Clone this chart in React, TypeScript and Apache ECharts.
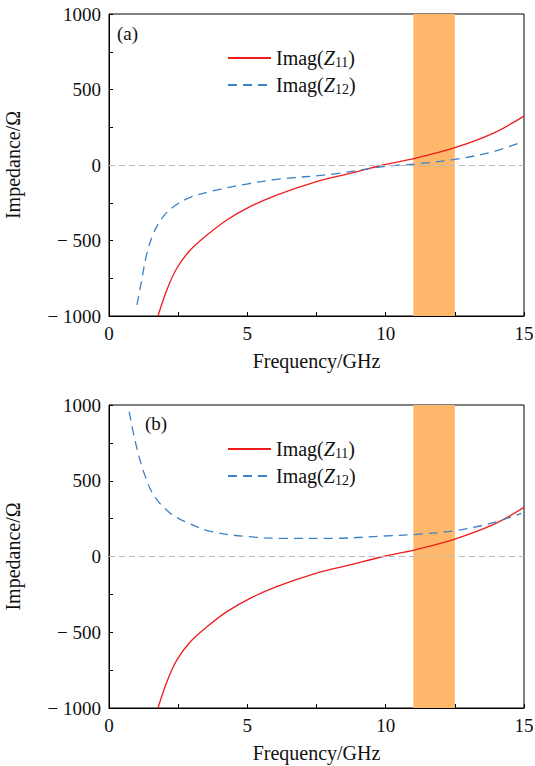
import React, { useEffect, useRef } from "react";
import * as echarts from "echarts";

// Frequency (GHz) / reactance (Ω) samples
const z11Freq = [1.77, 2.09, 2.45, 2.94, 3.54, 4.26, 5.1, 6.06, 7.5, 8.71, 9.91, 11.06, 12.5, 13.88, 15];
const z11Imag = [-1000, -828, -684, -563, -464, -364, -276, -199, -110, -55, 0, 44, 115, 210, 324];

const z12aFreq = [1.01, 1.16, 1.37, 1.61, 1.91, 2.33, 2.94, 3.78, 4.98, 6.06, 8.1, 9.91, 11.1, 12.5, 13.88, 14.85];
const z12aImag = [-927, -784, -585, -453, -353, -276, -214, -170, -126, -95, -60, -11, 7, 37, 88, 148];

const z12bFreq = [0.73, 0.95, 1.25, 1.61, 2.15, 2.75, 3.72, 5.04, 6.3, 8.1, 9.91, 11.1, 12.5, 13.88, 14.9];
const z12bImag = [956, 758, 560, 406, 296, 230, 164, 131, 120, 120, 135, 146, 170, 223, 285];

const bandStart = 11;
const bandEnd = 12.5;
const panelLabels = ["(a)", "(b)"];
const seriesNames = ["Imag(Z11)", "Imag(Z12)"];

const FONT = "Liberation Serif, DejaVu Serif, serif";
const RED = "#ee1c1c";
const BLUE = "#3d82c6";

const zip = (xs: number[], ys: number[]) => xs.map((x, i) => [x, ys[i]]);

export default function App() {
  const ref = useRef<HTMLDivElement>(null);
  useEffect(() => {
    if (!ref.current) return;
    const chart = echarts.init(ref.current, undefined, { renderer: "svg" });
    const grids = [
      { left: 109, right: 11, top: 14, height: 302, show: true, borderColor: "#000", borderWidth: 1, containLabel: false, outerBoundsMode: "none" },
      { left: 109, right: 11, top: 405, height: 303, show: true, borderColor: "#000", borderWidth: 1, containLabel: false, outerBoundsMode: "none" },
    ];
    const xAxis = [0, 1].map((g) => ({
      type: "value",
      gridIndex: g,
      min: 0,
      max: 15,
      interval: 5,
      name: "Frequency/GHz",
      nameLocation: "middle",
      nameGap: 35,
      nameTextStyle: { fontFamily: FONT, fontSize: 20, color: "#111" },
      axisLine: { onZero: false, lineStyle: { color: "#000", width: 1 } },
      axisTick: { inside: true, length: 4, lineStyle: { color: "#000" } },
      minorTick: { show: true, splitNumber: 2, length: 4, lineStyle: { color: "#000" } },
      splitLine: { show: false },
      axisLabel: { fontFamily: FONT, fontSize: 19, color: "#111", margin: 8 },
    }));
    const yAxis = [0, 1].map((g) => ({
      type: "value",
      gridIndex: g,
      min: -1000,
      max: 1000,
      interval: 500,
      name: "Impedance/Ω",
      nameLocation: "middle",
      nameGap: 86,
      nameTextStyle: { fontFamily: FONT, fontSize: 20, color: "#111" },
      axisLine: { onZero: false, lineStyle: { color: "#000", width: 1 } },
      axisTick: { inside: true, length: 4, lineStyle: { color: "#000" } },
      minorTick: { show: true, splitNumber: 2, length: 4, lineStyle: { color: "#000" } },
      splitLine: { show: false },
      axisLabel: {
        fontFamily: FONT,
        fontSize: 19,
        color: "#111",
        margin: 8,
        formatter: (v: number) => (v < 0 ? "− " + Math.abs(v) : String(v)),
      },
    }));
    const rich = {
      t: { fontFamily: FONT, fontSize: 20, color: "#111", lineHeight: 22, height: 22 },
      i: { fontFamily: FONT, fontSize: 20, fontStyle: "italic", color: "#111", lineHeight: 22, height: 22 },
      s: { fontFamily: FONT, fontSize: 14, color: "#111", lineHeight: 14, padding: [8, 0, 0, 0] },
    };
    const legendFmt = (name: string) =>
      name === seriesNames[0] ? "{t|Imag(}{i|Z}{s|11}{t|)}" : "{t|Imag(}{i|Z}{s|12}{t|)}";
    const legends = [42, 433].map((top) => ({
      top,
      left: 222,
      orient: "vertical",
      itemWidth: 43,
      itemHeight: 14,
      itemGap: 5,
      data: seriesNames,
      formatter: legendFmt,
      itemStyle: { opacity: 0 },
      textStyle: { rich },
    }));
    const mkSeries = (g: number, z12: number[][]) => [
      {
        name: seriesNames[0],
        type: "line",
        xAxisIndex: g,
        yAxisIndex: g,
        data: zip(z11Freq, z11Imag),
        smooth: 0.35,
        symbol: "none",
        lineStyle: { color: RED, width: 1.3 },
        itemStyle: { color: RED },
        z: 3,
        markArea: {
          silent: true,
          itemStyle: { color: "#FFB86B", opacity: 1 },
          data: [[{ xAxis: bandStart }, { xAxis: bandEnd }]],
        },
      },
      {
        name: seriesNames[1],
        type: "line",
        xAxisIndex: g,
        yAxisIndex: g,
        data: z12,
        smooth: 0.35,
        symbol: "none",
        lineStyle: { color: BLUE, width: 1.3, type: [9, 6] },
        itemStyle: { color: BLUE },
        z: 3,
        markLine: {
          silent: true,
          symbol: "none",
          label: { show: false },
          lineStyle: { color: "#bbbbbb", type: [6, 4], width: 1 },
          data: [{ yAxis: 0 }],
        },
      },
    ];
    chart.setOption({
      animation: false,
      backgroundColor: "#fff",
      textStyle: { fontFamily: FONT },
      grid: grids,
      xAxis,
      yAxis,
      legend: legends,
      series: [...mkSeries(0, zip(z12aFreq, z12aImag)), ...mkSeries(1, zip(z12bFreq, z12bImag))],
      graphic: [
        { type: "text", left: 117, top: 24, style: { text: panelLabels[0], fontFamily: FONT, fontSize: 19, fill: "#111" } },
        { type: "text", left: 145, top: 414, style: { text: panelLabels[1], fontFamily: FONT, fontSize: 19, fill: "#111" } },
      ],
    });
    return () => chart.dispose();
  }, []);
  return <div ref={ref} style={{ position: "fixed", left: 0, top: 0, width: 535, height: 766 }} />;
}
